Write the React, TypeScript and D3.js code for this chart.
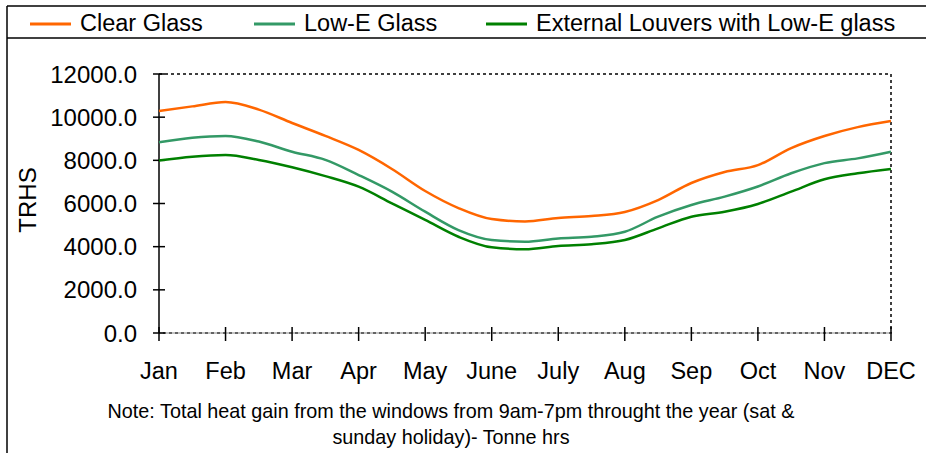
import React from "react";
import * as d3 from "d3";

// half-month samples, Jan .. DEC
const months = ["Jan", "Feb", "Mar", "Apr", "May", "June", "July", "Aug", "Sep", "Oct", "Nov", "DEC"];
const yTicks = [0, 2000, 4000, 6000, 8000, 10000, 12000];

const clearGlass = [10290, 10500, 10700, 10350, 9730, 9130, 8480, 7600, 6580, 5790, 5280, 5170, 5330, 5420, 5610, 6160, 6950, 7460, 7780, 8570, 9130, 9540, 9820];
const lowEGlass = [8840, 9050, 9130, 8870, 8400, 8020, 7320, 6550, 5620, 4770, 4310, 4230, 4380, 4460, 4690, 5390, 5930, 6320, 6790, 7400, 7870, 8090, 8400];
const louvers = [7990, 8170, 8250, 8020, 7680, 7270, 6780, 6010, 5240, 4460, 3970, 3880, 4030, 4110, 4310, 4850, 5390, 5620, 5980, 6550, 7120, 7400, 7600];

const seriesNames = ["Clear Glass", "Low-E Glass", "External Louvers with Low-E glass"];
const colors = ["#ff6600", "#339966", "#008000"];

export default function App() {
  const W = 926;
  const H = 453;
  const left = 159, right = 891, top = 74, bottom = 333;

  const x = d3.scaleLinear().domain([0, 22]).range([left, right]);
  const y = d3.scaleLinear().domain([0, 12000]).range([bottom, top]);
  const line = d3
    .line<number>()
    .x((d, i) => x(i))
    .y((d) => y(d))
    .curve(d3.curveMonotoneX);

  const series = [clearGlass, lowEGlass, louvers];
  const legendX = [30, 254, 486];
  const font = "Arial, 'Liberation Sans', sans-serif";

  return (
    <svg width={W} height={H} style={{ position: "absolute", left: 0, top: 0 }} fontFamily={font}>
      <rect width={W} height={H} fill="#fff" />
      {/* outer frame */}
      <line x1={7} y1={6} x2={W} y2={6} stroke="#000" strokeWidth={1.5} />
      <line x1={7} y1={38} x2={W} y2={38} stroke="#000" strokeWidth={1.5} />
      <line x1={7} y1={6} x2={7} y2={H} stroke="#000" strokeWidth={1.5} />

      {/* legend */}
      {seriesNames.map((n, i) => (
        <g key={n}>
          <line x1={legendX[i]} x2={legendX[i] + 41} y1={24} y2={24} stroke={colors[i]} strokeWidth={3} />
          <text x={legendX[i] + 50} y={31} fontSize={23.5} fill="#000">
            {n}
          </text>
        </g>
      ))}

      {/* plot border */}
      <path
        d={`M${left},${top}H${right}V${bottom}H${left}`}
        fill="none"
        stroke="#000"
        strokeWidth={1.5}
        strokeDasharray="3,3"
      />
      <line x1={left} x2={right} y1={bottom} y2={bottom} stroke="#888" strokeWidth={1} />
      <line x1={left} x2={left} y1={top} y2={bottom} stroke="#000" strokeWidth={1.5} />

      {/* y axis */}
      {yTicks.map((t) => (
        <g key={t}>
          <line x1={left - 6} x2={left + 6} y1={y(t)} y2={y(t)} stroke="#000" strokeWidth={1.5} />
          <text x={137} y={y(t)} dy="0.36em" textAnchor="end" fontSize={24} fill="#000">
            {t.toFixed(1)}
          </text>
        </g>
      ))}
      <text
        transform={`translate(36,200) rotate(-90)`}
        textAnchor="middle"
        fontSize={24}
        fill="#000"
      >
        TRHS
      </text>

      {/* x axis */}
      {months.map((m, i) => {
        const px = x(i * 2);
        return (
          <g key={m}>
            <line x1={px} x2={px} y1={bottom - 6} y2={bottom + 8} stroke="#000" strokeWidth={1.5} />
            <text x={px} y={379} textAnchor="middle" fontSize={23.5} fill="#000">
              {m}
            </text>
          </g>
        );
      })}

      {/* series */}
      {series.map((s, i) => (
        <path key={i} d={line(s) || ""} fill="none" stroke={colors[i]} strokeWidth={2.5} />
      ))}

      {/* note */}
      <text x={451} y={418} textAnchor="middle" fontSize={19.8} fill="#000">
        Note: Total heat gain from the windows from 9am-7pm throught the year (sat &amp;
      </text>
      <text x={451} y={444} textAnchor="middle" fontSize={19.8} fill="#000">
        sunday holiday)- Tonne hrs
      </text>
    </svg>
  );
}
